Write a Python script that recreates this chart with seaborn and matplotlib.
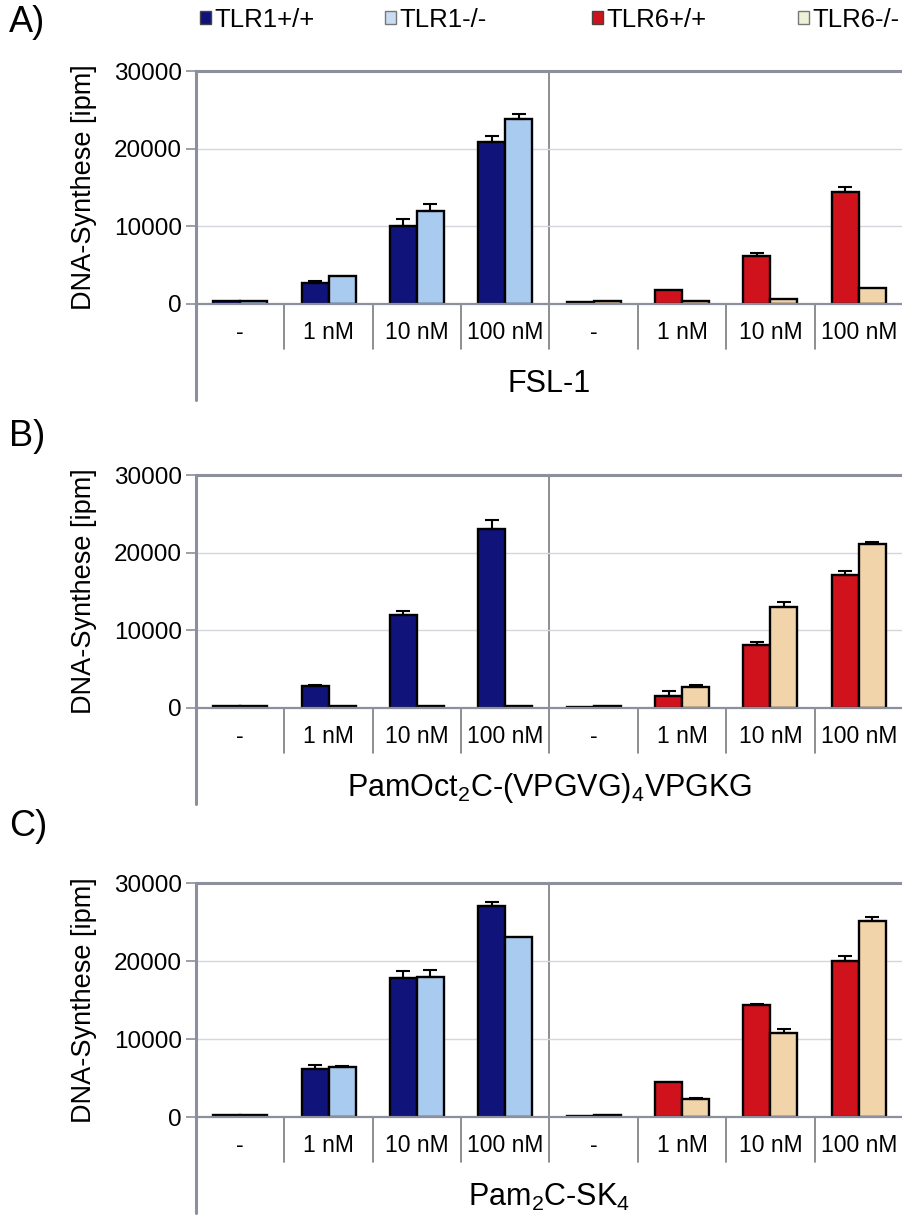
import pandas as pd
import seaborn as sns
import matplotlib.pyplot as plt
from matplotlib.patches import Patch
import numpy as np

# Data (ipm)
conc = ["-", "1 nM", "10 nM", "100 nM"]

a_tlr1_wt = [350, 2700, 10100, 20900]
a_tlr1_wt_err = [0, 200, 800, 700]
a_tlr1_ko = [350, 3600, 12000, 23800]
a_tlr1_ko_err = [0, 0, 850, 700]
a_tlr6_wt = [200, 1800, 6200, 14400]
a_tlr6_wt_err = [0, 0, 350, 650]
a_tlr6_ko = [350, 350, 700, 2000]
a_tlr6_ko_err = [0, 0, 0, 0]

b_tlr1_wt = [300, 2800, 12000, 23100]
b_tlr1_wt_err = [0, 150, 500, 1150]
b_tlr1_ko = [300, 300, 300, 300]
b_tlr1_ko_err = [0, 0, 0, 0]
b_tlr6_wt = [150, 1600, 8050, 17150]
b_tlr6_wt_err = [0, 550, 500, 550]
b_tlr6_ko = [300, 2750, 13050, 21100]
b_tlr6_ko_err = [0, 150, 600, 300]

c_tlr1_wt = [300, 6100, 17850, 27100]
c_tlr1_wt_err = [0, 550, 850, 450]
c_tlr1_ko = [300, 6400, 18000, 23100]
c_tlr1_ko_err = [0, 200, 850, 0]
c_tlr6_wt = [150, 4500, 14400, 20000]
c_tlr6_wt_err = [0, 0, 100, 650]
c_tlr6_ko = [300, 2300, 10750, 25150]
c_tlr6_ko_err = [0, 200, 480, 480]

panel_letters = ["A)", "B)", "C)"]
outer_labels = ["FSL-1",
                r"PamOct$_\mathrm{2}$C-(VPGVG)$_\mathrm{4}$VPGKG",
                r"Pam$_\mathrm{2}$C-SK$_\mathrm{4}$"]
legend_labels = ["TLR1+/+", "TLR1-/-", "TLR6+/+", "TLR6-/-"]

col_tlr1_wt = "#10147a"
col_tlr1_ko = "#a9cbf0"
col_tlr6_wt = "#d0121c"
col_tlr6_ko = "#f2d4aa"
gray = "#8c909c"

sns.set_theme(style="white")
plt.rcParams['font.family'] = ['Liberation Sans', 'DejaVu Sans']
plt.rcParams['mathtext.fontset'] = 'custom'
plt.rcParams['mathtext.rm'] = 'Liberation Sans'
plt.rcParams['text.color'] = 'black'
plt.rcParams['axes.labelcolor'] = 'black'

fig = plt.figure(figsize=(9.03, 12.16), dpi=100)
W, H = 903, 1216
ax_left, ax_right = 196, 903
panel_px = [(71, 304), (475, 708), (883, 1117)]
letter_y = [22, 437, 826]


def draw_panel(ax, wt1, wt1e, ko1, ko1e, wt6, wt6e, ko6, ko6e, outer):
    keys = [f"TLR1 {c}" for c in conc] + [f"TLR6 {c}" for c in conc]
    df = pd.DataFrame({
        "cat": keys * 2,
        "geno": ["+/+"] * 8 + ["-/-"] * 8,
        "value": wt1 + wt6 + ko1 + ko6,
    })
    sns.barplot(data=df, x="cat", y="value", hue="geno", order=keys,
                hue_order=["+/+", "-/-"], width=0.61, errorbar=None,
                legend=False, edgecolor="black", linewidth=1.7, ax=ax)
    colors = [[col_tlr1_wt] * 4 + [col_tlr6_wt] * 4,
              [col_tlr1_ko] * 4 + [col_tlr6_ko] * 4]
    errs = [wt1e + wt6e, ko1e + ko6e]
    for cont, cols, err in zip(ax.containers, colors, errs):
        xs, ys, es = [], [], []
        for bar, c, e in zip(cont.patches, cols, err):
            bar.set_facecolor(c)
            if e > 0:
                xs.append(bar.get_x() + bar.get_width() / 2)
                ys.append(bar.get_height())
                es.append(e)
        if xs:
            ax.errorbar(xs, ys, yerr=[np.zeros(len(es)), es], fmt="none",
                        ecolor="black", elinewidth=1.5, capsize=5,
                        capthick=1.5, zorder=1)

    ax.set_xlim(-0.5, 7.5)
    ax.set_ylim(0, 30000)
    ax.set_yticks([0, 10000, 20000, 30000])
    ax.yaxis.grid(True, color="#d6d6dc", lw=1.0)
    ax.set_axisbelow(True)
    ax.tick_params(axis="y", labelsize=17.5, length=7, width=1.2,
                   color=gray, labelcolor="black", left=True, pad=3)
    ax.set_xticks(range(8))
    ax.set_xticklabels(conc * 2, fontsize=16.5)
    ax.tick_params(axis="x", length=0, pad=12, labelcolor="black")
    ax.set_xlabel("")
    ax.set_ylabel("DNA-Synthese [ipm]", fontsize=19.5, labelpad=12)

    for side in ["left", "top"]:
        ax.spines[side].set_color(gray)
        ax.spines[side].set_linewidth(2.2)
    ax.spines["bottom"].set_color(gray)
    ax.spines["bottom"].set_linewidth(1.6)
    ax.spines["right"].set_visible(False)

    h = ax.get_position().height * H
    tr = ax.get_xaxis_transform()
    inner = -45 / h
    ax.plot([3.5, 3.5], [inner, 1], transform=tr, color="#7a7a80",
            lw=1.2, clip_on=False, zorder=0.5)
    for xs in [0.5, 1.5, 2.5, 4.5, 5.5, 6.5]:
        ax.plot([xs, xs], [inner, 0], transform=tr, color="#7a7a80",
                lw=1.2, clip_on=False)
    ax.plot([-0.5, -0.5], [0, -96 / h], transform=tr, color=gray,
            lw=2.2, clip_on=False)
    ax.text(0.5, -80 / h, outer, transform=ax.transAxes, ha="center",
            va="center", fontsize=22)


panel_data = [
    (a_tlr1_wt, a_tlr1_wt_err, a_tlr1_ko, a_tlr1_ko_err,
     a_tlr6_wt, a_tlr6_wt_err, a_tlr6_ko, a_tlr6_ko_err),
    (b_tlr1_wt, b_tlr1_wt_err, b_tlr1_ko, b_tlr1_ko_err,
     b_tlr6_wt, b_tlr6_wt_err, b_tlr6_ko, b_tlr6_ko_err),
    (c_tlr1_wt, c_tlr1_wt_err, c_tlr1_ko, c_tlr1_ko_err,
     c_tlr6_wt, c_tlr6_wt_err, c_tlr6_ko, c_tlr6_ko_err),
]

for (top, bottom), data, outer, letter, ly in zip(panel_px, panel_data,
                                                 outer_labels, panel_letters,
                                                 letter_y):
    ax = fig.add_axes([ax_left / W, 1 - bottom / H,
                       (ax_right - ax_left) / W, (bottom - top) / H])
    draw_panel(ax, *data, outer)
    fig.text(9 / W, 1 - ly / H, letter, fontsize=26, ha="left", va="center")

# Legend: one entry per legend so each sits where it does in the figure
leg_faces = [col_tlr1_wt, "#c8dcf2", col_tlr6_wt, "#eef0d8"]
leg_edges = ["#444444", "#777777", "#444444", "#777777"]
leg_x = [200, 385, 592, 798]
for lab, fc, ec, lx in zip(legend_labels, leg_faces, leg_edges, leg_x):
    fig.legend(handles=[Patch(facecolor=fc, edgecolor=ec, label=lab)],
               bbox_to_anchor=(lx / W, 1 - 20 / H), loc="center left",
               frameon=False, fontsize=18.5, handlelength=0.42,
               handleheight=0.42, handletextpad=0.15, borderpad=0,
               borderaxespad=0)

fig.savefig("out.png", dpi=100, facecolor="white")
plt.close(fig)
